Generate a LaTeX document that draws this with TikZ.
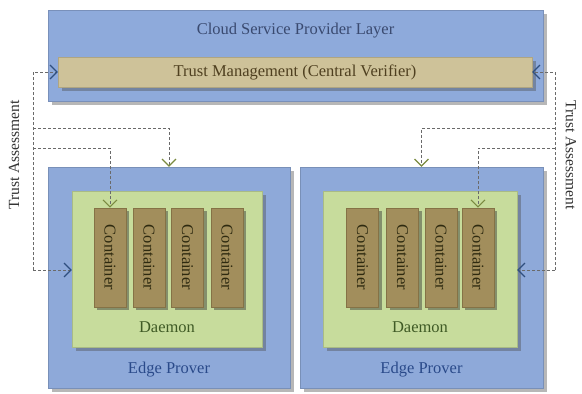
\documentclass[tikz,border=0pt]{standalone}
\usepackage{fontspec}
\setmainfont{Liberation Serif}
\usetikzlibrary{shadows,arrows.meta}
\definecolor{cloudblue}{HTML}{8EAADB}
\definecolor{epblue}{HTML}{8EA9D9}
\definecolor{tmtan}{HTML}{CEC299}
\definecolor{dgreen}{HTML}{C7DC9C}
\definecolor{ctbrown}{HTML}{A28E5C}
\definecolor{ctborder}{HTML}{857246}
\definecolor{titlecol}{HTML}{3A4A70}
\definecolor{tmtext}{HTML}{4F4020}
\definecolor{cttext}{HTML}{2E2A10}
\definecolor{dtext}{HTML}{3F5A25}
\definecolor{eptext}{HTML}{2A4A8A}
\definecolor{linecol}{HTML}{6A6A6A}
\definecolor{tipblue}{HTML}{2F4F7F}
\definecolor{tipgreen}{HTML}{7A8A40}
\begin{document}
\begin{tikzpicture}[x=1pt,y=-1pt,
  every node/.style={font=\fontsize{16.5}{19}\selectfont, inner sep=0pt},
  shad/.style={drop shadow={shadow xshift=4pt, shadow yshift=-4pt, opacity=0.4, fill=black!70}},
  cloudbox/.style={shad, fill=cloudblue, draw=cloudblue!85!black, line width=0.4pt},
  tmbox/.style={shad, fill=tmtan, draw=tmtan!85!black, line width=0.4pt, text=tmtext},
  epbox/.style={shad, fill=epblue, draw=epblue!85!black, line width=0.4pt},
  dbox/.style={shad, fill=dgreen, draw=dgreen!85!black, line width=0.4pt},
  ctbox/.style={drop shadow={shadow xshift=3pt, shadow yshift=-3pt, opacity=0.45, fill=black!80},
     fill=ctbrown, draw=ctborder, line width=0.6pt, text=cttext,
     minimum width=32pt, minimum height=99pt},
  dline/.style={draw=linecol, line width=0.8pt, dash pattern=on 3pt off 2pt},
  tipb/.style={-{Straight Barb[length=7pt,width=14pt,line width=1.1pt,color=tipblue]}},
  tipg/.style={-{Straight Barb[length=7pt,width=14pt,line width=1.1pt,color=tipgreen]}},
  sidelabel/.style={text=black!80, font=\fontsize{15.5}{18}\selectfont}
]
\useasboundingbox (0,0) rectangle (582,394);
\fill[white] (0,0) rectangle (582,394);

% cloud layer
\node[cloudbox, minimum width=495pt, minimum height=91pt] (cloud) at (295.5,55.5) {};
\node[text=titlecol] (title) at (295.5,31) {Cloud Service Provider Layer};
\node[tmbox, minimum width=474pt, minimum height=30pt] (tm) at (295,72) {Trust Management (Central Verifier)};

% edge provers
\node[epbox, minimum width=242pt, minimum height=221pt] (ep1) at (169,277.5) {};
\node[epbox, minimum width=243pt, minimum height=221pt] (ep2) at (421.5,277.5) {};
\node[dbox, minimum width=190pt, minimum height=156pt] (d1) at (167,269) {};
\node[dbox, minimum width=194pt, minimum height=156pt] (d2) at (420,269) {};
\node[text=dtext] (dl1) at (167,327) {Daemon};
\node[text=dtext] (dl2) at (420,327) {Daemon};
\node[text=eptext] (el1) at (169,370) {Edge Prover};
\node[text=eptext] (el2) at (421.5,370) {Edge Prover};

% containers
\foreach \n/\x in {c11/110,c12/149,c13/187.5,c14/227,c21/362.5,c22/402.5,c23/441,c24/478}{
  \node[ctbox] (\n) at (\x,257.5) {\rotatebox{-90}{Container}};
}

% side labels
\node[sidelabel, rotate=90] (tal) at (14,155) {Trust Assessment};
\node[sidelabel, rotate=-90] (tar) at (571,155) {Trust Assessment};

% left connectors
\coordinate (lt) at (33,72);
\coordinate (lb) at (33,270);
\coordinate (lh1) at (33,128);
\coordinate (lh2) at (33,148);
\draw[dline, tipb] (lb) -- (lt) -- (tm.west);
\draw[dline, tipb] (lb) -- (d1.west |- lb);
\draw[dline, tipg] (lh1) -| (ep1.north);
\draw[dline, tipg] (lh2) -| (c11.north);

% right connectors
\coordinate (rt) at (555,72);
\coordinate (rb) at (555,270);
\coordinate (rh1) at (555,128);
\coordinate (rh2) at (555,148);
\draw[dline, tipb] (rb) -- (rt) -- (tm.east);
\draw[dline, tipb] (rb) -- (d2.east |- rb);
\draw[dline, tipg] (rh1) -| (ep2.north);
\draw[dline, tipg] (rh2) -| (c24.north);
\end{tikzpicture}
\end{document}
